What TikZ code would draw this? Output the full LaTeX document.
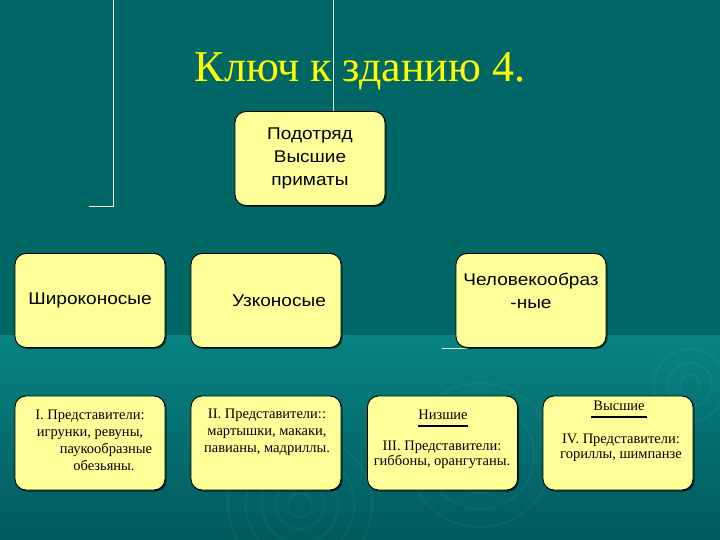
\documentclass[tikz,border=0pt]{standalone}
\usepackage{fontspec}
\setmainfont{Liberation Serif}
\newfontfamily\boxfont[FakeStretch=1.12]{Liberation Sans}
\usepackage{xcolor}
\usetikzlibrary{shadows}
\definecolor{topteal}{HTML}{006666}
\definecolor{lowteal}{HTML}{098383}
\definecolor{deepteal}{HTML}{005A5C}
\definecolor{paleline}{HTML}{E6F0C8}
\definecolor{boxyellow}{HTML}{FFFF99}
\definecolor{titleyellow}{HTML}{FFFF00}

\begin{document}
\begin{tikzpicture}[x=1pt,y=-1pt,
box/.style={draw=black,line width=0.9pt,rounded corners=11pt,fill=boxyellow,
	minimum width=150pt,minimum height=94pt,inner sep=0,
	drop shadow={shadow xshift=1.5pt,shadow yshift=-1.5pt,fill=black,opacity=0.55}},
lab/.style={font=\boxfont\fontsize{17}{23}\selectfont,align=center,inner sep=0},
rep/.style={font=\fontsize{14.5}{17}\selectfont,align=center,inner sep=0},
deco/.style={draw=paleline,line width=0.8pt},
ring/.style={draw=white,opacity=0.045,line width=2pt},
uline/.style={line width=1.6pt}]
	\def\rowy{443}
	\useasboundingbox (0,0) rectangle (720,540);
	% background
	\fill[topteal] (0,0) rectangle (720,335);
	\shade[top color=lowteal,bottom color=deepteal] (0,335) rectangle (720,540);
	\foreach \r in {12,24,38,54,72} {
		\draw[ring] (300,505) circle (\r);
		\draw[ring] (480,455) circle (\r);
	}
	\foreach \r in {10,22,36} \draw[ring] (690,385) circle (\r);

	% frame lines
	\draw[deco] (113,0) -- (113,206) -- (89,206);
	\draw[deco] (333,0) -- (333,112);
	\draw[deco] (442,348) -- (468,348);

	% title
	\node[font=\fontsize{44}{50}\selectfont,text=titleyellow,anchor=base] (title) at (360,82) {Ключ к зданию 4.};

	% suborder
	\node[box,lab] (top) at (310,158.5) {Подотряд\\Высшие\\приматы};

	% groups
	\node[box,lab] (wide) at (90,300.5) {Широконосые};
	\node[box,lab] (narrow) at (266,300.5) {\hspace*{26pt}Узконосые};
	\node[box] (apes) at (531,300.5) {};
	\node[lab] (apeslab) at ([yshift=9.5pt]apes.center) {Человекообраз\\-ные};

	% representatives
	\foreach \x/\n in {90/r1,266/r2,442.5/r3,618/r4}
		\node[box] (\n) at (\x,\rowy) {};
	\node[rep] (r1lab) at ([yshift=2.5pt]r1.center) {I. Представители:\\игрунки, ревуны,\\\hspace*{32pt}паукообразные\\\hspace*{28pt}обезьяны.};
	\node[rep] (r2lab) at ([yshift=11pt,xshift=1pt]r2.center) {II. Представители::\\мартышки, макаки,\\павианы, мадриллы.};
	\node[rep] (low) at (443,415) {Низшие};
	\draw[uline] ([yshift=-6pt]low.south west) -- ([yshift=-6pt]low.south east);
	\node[rep,font=\fontsize{14.5}{15}\selectfont] (r3lab) at (442,454.5) {III. Представители:\\гиббоны, орангутаны.};
	\node[rep] (high) at (619,406) {Высшие};
	\draw[uline] ([yshift=-6pt,xshift=-2pt]high.south west) -- ([yshift=-6pt,xshift=2pt]high.south east);
	\node[rep,font=\fontsize{14.5}{15}\selectfont] (r4lab) at (621,447.5) {IV. Представители:\\гориллы, шимпанзе};
\end{tikzpicture}
\end{document}
